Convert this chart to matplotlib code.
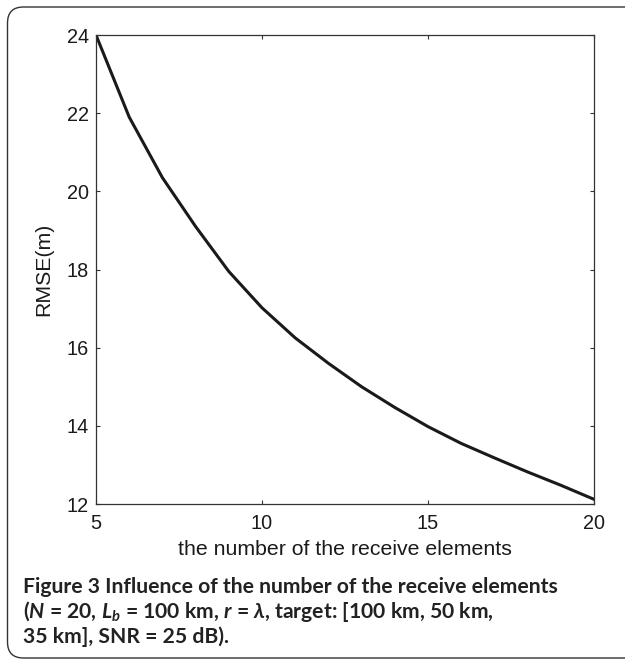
import matplotlib
matplotlib.use("Agg")
import matplotlib.pyplot as plt
from matplotlib.patches import FancyBboxPatch

# data
elements = [5, 6, 7, 8, 9, 10, 11, 12, 13, 14, 15, 16, 17, 18, 19, 20]
rmse = [24.0, 21.9, 20.35, 19.1, 17.95, 17.02, 16.25, 15.6, 15.0, 14.47,
        13.98, 13.55, 13.18, 12.82, 12.48, 12.12]
xticks = [5, 10, 15, 20]
yticks = [12, 14, 16, 18, 20, 22, 24]
xlabel = "the number of the receive elements"
ylabel = "RMSE(m)"

plt.rcParams['mathtext.fontset'] = 'custom'
plt.rcParams['mathtext.rm'] = 'Lato:bold'
plt.rcParams['mathtext.it'] = 'Lato:italic:bold'
plt.rcParams['mathtext.bf'] = 'Lato:bold'
plt.rcParams['mathtext.bfit'] = 'Lato:italic:bold'

W, H = 625, 660
fig = plt.figure(figsize=(W / 100, H / 100), dpi=100)

left, right, top, bottom = 96, 594, 35, 504
ax = fig.add_axes([left / W, 1 - bottom / H, (right - left) / W, (bottom - top) / H])
ax.plot(elements, rmse, color='#1a1a1a', lw=2.2, solid_joinstyle='miter')
ax.set_xlim(5, 20)
ax.set_ylim(12, 24)
ax.set_xticks(xticks)
ax.set_yticks(yticks)
for s in ax.spines.values():
    s.set_color('#333333')
    s.set_linewidth(0.9)
ax.tick_params(direction='in', length=3, width=0.8, color='#333333',
               top=True, right=True, labelsize=14.3, labelcolor='#1a1a1a', pad=5)
ax.tick_params(axis='x', pad=7)
for lab in ax.get_xticklabels() + ax.get_yticklabels():
    lab.set_family('Liberation Sans')
ax.set_xlabel(xlabel, family='Liberation Sans', fontsize=15.3, color='#1a1a1a', labelpad=5)
ax.set_ylabel(ylabel, family='Liberation Sans', fontsize=15.3, color='#1a1a1a', labelpad=10)

# caption
cap_kw = dict(family='Lato', fontweight='bold', fontsize=15.2, color='#222222',
              ha='left', va='center')
fig.text(23 / W, 1 - 587 / H, "Figure 3 Influence of the number of the receive elements", **cap_kw)
fig.text(23 / W, 1 - 611 / H,
         r"($\mathbfit{N}$ = 20, $\mathbfit{L}_{\mathbfit{b}}$ = 100 km, $\mathbfit{r}$ = $\mathbfit{λ}$, target: [100 km, 50 km,",
         **cap_kw)
fig.text(23 / W, 1 - 637 / H, "35 km], SNR = 25 dB).", **cap_kw)

# rounded frame
box = FancyBboxPatch((0.075, 0.02), 6.6, 6.51,
                     boxstyle="round,pad=0,rounding_size=0.16",
                     transform=fig.dpi_scale_trans, fill=False,
                     edgecolor='#333333', lw=1.0, clip_on=False)
fig.patches.append(box)

fig.savefig("out.png", dpi=100)
